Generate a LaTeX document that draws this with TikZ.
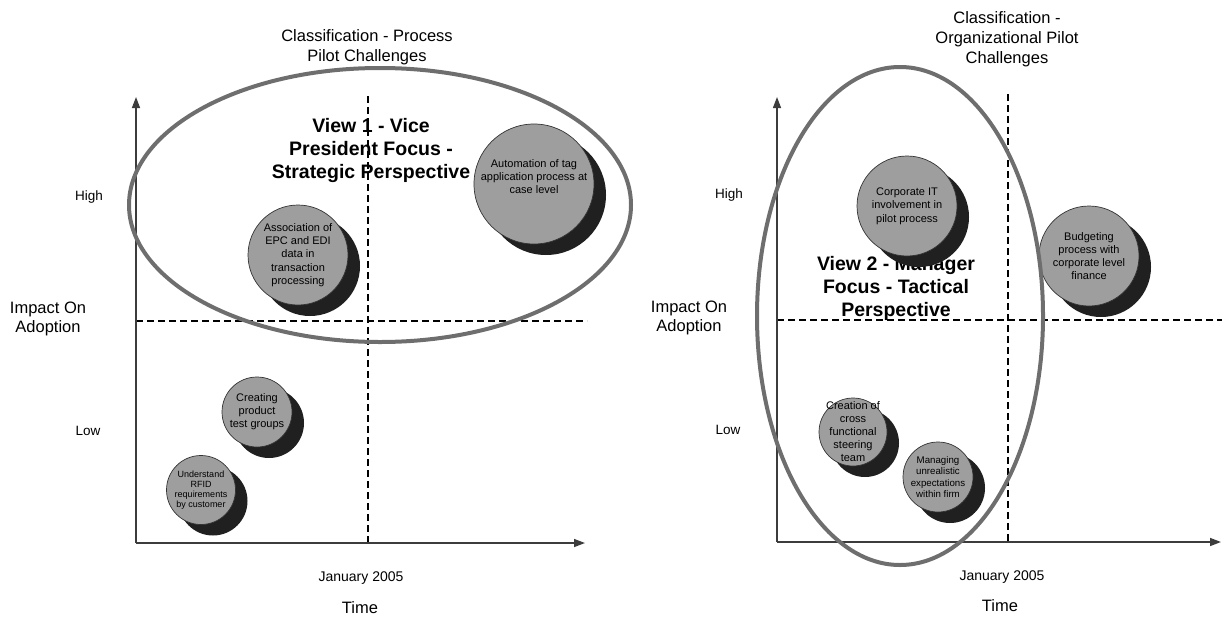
\documentclass[tikz,border=0pt]{standalone}
\usepackage{fontspec}
\setmainfont{Liberation Sans}
\usetikzlibrary{arrows.meta,shadows}

\definecolor{ringgray}{RGB}{110,110,110}
\definecolor{bubblefill}{RGB}{158,158,158}
\definecolor{bubbleshade}{RGB}{32,32,32}
\definecolor{axisgray}{RGB}{60,60,60}

\tikzset{
  axisline/.style={draw=axisgray, line width=1.4pt, -{Triangle[length=11pt,width=8pt]}},
  guide/.style={draw=black, line width=1.1pt, dash pattern=on 7pt off 4pt},
  ring/.style={draw=ringgray, line width=4pt},
  bubble/.style={circle, draw=black!80, line width=0.7pt, fill=bubblefill, inner sep=0pt,
    general shadow={fill=bubbleshade, shadow xshift=12pt, shadow yshift=-11pt}},
  bubtext/.style={align=center, font=\fontsize{11}{13}\selectfont, inner sep=0pt},
  smalltext/.style={align=center, font=\fontsize{9.5}{10.8}\selectfont, inner sep=0pt},
  titletext/.style={align=center, font=\fontsize{16.5}{20}\selectfont, inner sep=0pt},
  axistext/.style={align=center, font=\fontsize{16.5}{19}\selectfont, inner sep=0pt},
  leveltext/.style={font=\fontsize{13.5}{16}\selectfont, inner sep=0pt},
  datetext/.style={font=\fontsize{14}{16}\selectfont, inner sep=0pt},
  viewtext/.style={align=center, font=\bfseries\fontsize{19.5}{23}\selectfont, inner sep=0pt},
}

\begin{document}
\begin{tikzpicture}[x=1pt, y=-1pt]
\useasboundingbox (0,0) rectangle (1222,616);

% ---------- left chart: process pilot challenges ----------
\coordinate (L-o) at (136,543);
\coordinate (L-ytip) at (136,97);
\coordinate (L-xtip) at (585,543);
\coordinate (L-vtop) at (368,96);
\coordinate (L-vbot) at (368,543);
\coordinate (L-hl) at (136,321);
\coordinate (L-hr) at (587,321);

\draw[guide] (L-vtop) -- (L-vbot);
\draw[guide] (L-hl) -- (L-hr);
\draw[axisline] (L-o) -- (L-ytip);
\draw[axisline] (L-o) -- (L-xtip);

\node[titletext] (L-title) at (367,47) {Classification - Process\\Pilot Challenges};
\node[leveltext] (L-high) at (89,197) {High};
\node[axistext] (L-impact) at (48,319) {Impact On\\Adoption};
\node[leveltext] (L-low) at (88,431) {Low};
\node[datetext] (L-date) at (361,578) {January 2005};
\node[titletext] (L-time) at (360,608) {Time};

\node[viewtext] (L-view) at (371,150) {View 1 - Vice\\President Focus -\\Strategic Perspective};

\node[bubble, minimum size=120pt] (autotag) at (534,184) {};
\node[bubtext] (autotag-t) at (534,177) {Automation of tag\\application process at\\case level};

\node[bubble, minimum size=100pt] (epcedi) at (298,255) {};
\node[bubtext, font=\fontsize{11}{13.3}\selectfont] (epcedi-t) at (epcedi.center) {Association of\\EPC and EDI\\data in\\transaction\\processing};

\node[bubble, minimum size=70pt] (testgrp) at (257,412) {};
\node[bubtext] (testgrp-t) at (testgrp.center) {Creating\\product\\test groups};

\node[bubble, minimum size=69pt] (rfid) at (201,490) {};
\node[smalltext, font=\fontsize{9}{10}\selectfont] (rfid-t) at (rfid.center) {Understand\\RFID\\requirements\\by customer};

\draw[ring] (380,205) ellipse [x radius=251, y radius=137];

% ---------- right chart: organizational pilot challenges ----------
\coordinate (R-o) at (777,542);
\coordinate (R-ytip) at (777,97);
\coordinate (R-xtip) at (1221,542);
\coordinate (R-vtop) at (1008,94);
\coordinate (R-vbot) at (1008,542);
\coordinate (R-hl) at (777,320);
\coordinate (R-hr) at (1222,320);

\draw[guide] (R-vtop) -- (R-vbot);
\draw[guide] (R-hl) -- (R-hr);
\draw[axisline] (R-o) -- (R-ytip);
\draw[axisline] (R-o) -- (R-xtip);

\node[titletext] (R-title) at (1007,39) {Classification -\\Organizational Pilot\\Challenges};
\node[leveltext] (R-high) at (729,195) {High};
\node[axistext] (R-impact) at (689,318) {Impact On\\Adoption};
\node[leveltext] (R-low) at (728,430) {Low};
\node[datetext] (R-date) at (1002,577) {January 2005};
\node[titletext] (R-time) at (1000,606) {Time};

\node[viewtext] (R-view) at (896,288) {View 2 - Manager\\Focus - Tactical\\Perspective};

\node[bubble, minimum size=100pt] (corpit) at (907,206) {};
\node[bubtext, font=\fontsize{11}{13.3}\selectfont] (corpit-t) at (corpit.center) {Corporate IT\\involvement in\\pilot process};

\node[bubble, minimum size=100pt] (budget) at (1089,256) {};
\node[bubtext] (budget-t) at (budget.center) {Budgeting\\process with\\corporate level\\finance};

\node[bubble, minimum size=68pt] (steer) at (853,432) {};
\node[bubtext] (steer-t) at (steer.center) {Creation of\\cross\\functional\\steering\\team};

\node[bubble, minimum size=70pt] (manage) at (938,477) {};
\node[smalltext, font=\fontsize{9.7}{11.5}\selectfont] (manage-t) at (manage.center) {Managing\\unrealistic\\expectations\\within firm};

\draw[ring] (900,316) ellipse [x radius=143, y radius=249];
\end{tikzpicture}
\end{document}
